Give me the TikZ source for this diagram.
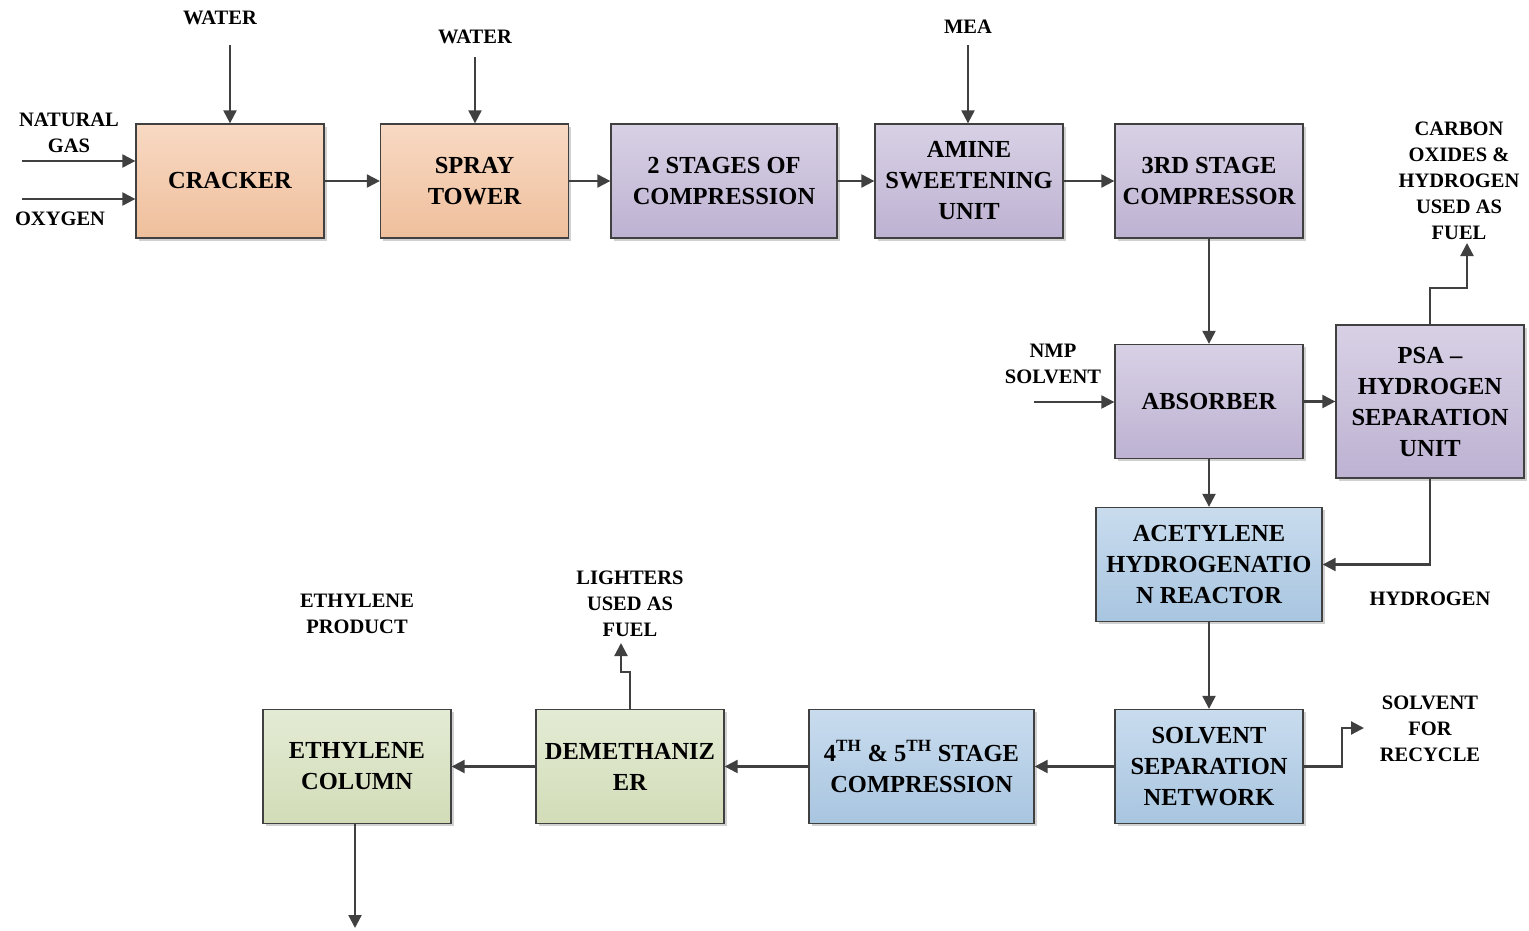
\documentclass[tikz,border=0pt]{standalone}
\usepackage{fontspec}
\setmainfont{Liberation Serif}
\usetikzlibrary{arrows.meta,shadows}

\definecolor{linec}{HTML}{404040}
\definecolor{ortop}{HTML}{F8D9C3}
\definecolor{orbot}{HTML}{EFBF9C}
\definecolor{putop}{HTML}{D8D1E5}
\definecolor{pubot}{HTML}{BDB2D2}
\definecolor{bltop}{HTML}{C9DCEE}
\definecolor{blbot}{HTML}{A8C5E0}
\definecolor{grtop}{HTML}{E4EBD5}
\definecolor{grbot}{HTML}{D2DCB7}

\newcommand{\boxfont}{\bfseries\fontsize{24.5}{31}\selectfont}
\newcommand{\lblfont}{\bfseries\fontsize{20.5}{26}\selectfont}

\tikzset{
  unit/.style={draw=linec, line width=1.3pt, minimum width=188pt, minimum height=114pt,
    align=center, inner sep=2pt, font=\boxfont,
    drop shadow={shadow xshift=2.5pt, shadow yshift=-2.5pt, fill=black, opacity=0.18}},
  crackbox/.style={unit, top color=ortop, bottom color=orbot},
  purplebox/.style={unit, top color=putop, bottom color=pubot},
  bluebox/.style={unit, top color=bltop, bottom color=blbot},
  greenbox/.style={unit, top color=grtop, bottom color=grbot},
  flow/.style={draw=linec, line width=2.2pt, -{Triangle[length=13pt,width=13pt]}},
  lbl/.style={align=center, inner sep=0pt, font=\lblfont}
}

\begin{document}
\begin{tikzpicture}[x=1pt,y=-1pt]
\useasboundingbox (0,0) rectangle (1529,930);

% process units
\node[crackbox]  (cracker) at (230,181)   {CRACKER};
\node[crackbox]  (spray)   at (474.5,181) {SPRAY\\TOWER};
\node[purplebox, minimum width=226pt] (comp2) at (724,181) {2 STAGES OF\\COMPRESSION};
\node[purplebox] (amine)   at (969,181)   {AMINE\\SWEETENING\\UNIT};
\node[purplebox] (comp3)   at (1209,181)  {3RD STAGE\\COMPRESSOR};
\node[purplebox] (absorb)  at (1209,401.5) {ABSORBER};
\node[purplebox, minimum height=153pt] (psa) at (1430,401.5) {PSA \textendash\\HYDROGEN\\SEPARATION\\UNIT};
\node[bluebox, minimum width=226pt] (acet) at (1209,564.5) {ACETYLENE\\HYDROGENATIO\\N REACTOR};
\node[bluebox]   (ssn)     at (1209,766.5) {SOLVENT\\SEPARATION\\NETWORK};
\node[bluebox, minimum width=225pt] (comp45) at (921.5,766.5) {4\textsuperscript{TH} \& 5\textsuperscript{TH} STAGE\\COMPRESSION};
\node[greenbox]  (demeth)  at (630,766.5) {DEMETHANIZ\\ER};
\node[greenbox]  (ethcol)  at (357,766.5) {ETHYLENE\\COLUMN};

% stream labels
\node[lbl] (water1) at (220,18)  {WATER};
\node[lbl] (water2) at (475,37)  {WATER};
\node[lbl] (mea)    at (968,27)  {MEA};
\node[lbl] (natgas) at (69,133)  {NATURAL\\GAS};
\node[lbl] (oxy)    at (60,219)  {OXYGEN};
\node[lbl] (carbon) at (1459,181) {CARBON\\OXIDES \&\\HYDROGEN\\USED AS\\FUEL};
\node[lbl] (nmp)    at (1053,363.5) {NMP\\SOLVENT};
\node[lbl] (hydro)  at (1430,599) {HYDROGEN};
\node[lbl] (ethprod) at (357,613.5) {ETHYLENE\\PRODUCT};
\node[lbl] (lighter) at (630,604) {LIGHTERS\\USED AS\\FUEL};
\node[lbl] (solvrec) at (1430,729) {SOLVENT\\FOR\\RECYCLE};

% free ends of feed and product streams
\coordinate (w1) at (230,45);
\coordinate (w2) at (475,57);
\coordinate (m1) at (968,45);
\coordinate (ng) at (22,161);
\coordinate (ox) at (22,199);
\coordinate (nmpin) at (1034,402);
\coordinate (fuelend) at (1467,243);
\coordinate (lightend) at (621,643);
\coordinate (solvend) at (1364,728);
\coordinate (ethend) at (355,928);

% feeds
\draw[flow] (w1) -- (w1 |- cracker.north);
\draw[flow] (w2) -- (w2 |- spray.north);
\draw[flow] (m1) -- (m1 |- amine.north);
\draw[flow] (ng) -- (ng -| cracker.west);
\draw[flow] (ox) -- (ox -| cracker.west);
\draw[flow] (nmpin) -- (nmpin -| absorb.west);

% main line
\draw[flow] (cracker) -- (spray);
\draw[flow] (spray) -- (comp2);
\draw[flow] (comp2) -- (amine);
\draw[flow] (amine) -- (comp3);
\draw[flow] (comp3) -- (absorb);
\draw[flow] (absorb) -- (psa);
\draw[flow] (absorb) -- (acet);
\draw[flow] (psa.south) |- (acet.east);
\draw[flow] (acet) -- (ssn);
\draw[flow] (ssn) -- (comp45);
\draw[flow] (comp45) -- (demeth);
\draw[flow] (demeth) -- (ethcol);

% side products
\draw[flow] (psa.north) -- ++(0,-36) -| (fuelend);
\draw[flow] (demeth.north) -- ++(0,-37) -| (lightend);
\draw[flow] (ssn.east) -- ++(38,0) |- (solvend);
\draw[flow] (ethend |- ethcol.south) -- (ethend);
\end{tikzpicture}
\end{document}
